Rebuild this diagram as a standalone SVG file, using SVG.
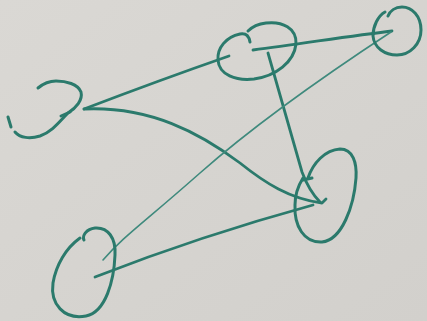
<svg xmlns="http://www.w3.org/2000/svg" width="427" height="321" viewBox="0 0 427 321">
<defs>
<linearGradient id="bg" x1="0" y1="0" x2="1" y2="1">
<stop offset="0" stop-color="#dad8d4"/>
<stop offset="1" stop-color="#d2d0cc"/>
</linearGradient>
</defs>
<style>
.n{fill:none;stroke:#2b7a6c;stroke-width:3;stroke-linecap:round;stroke-linejoin:round}
.e{fill:none;stroke:#2b7a6c;stroke-width:2.8;stroke-linecap:round;stroke-linejoin:round}
.t{fill:none;stroke:#3f8a7d;stroke-width:1.6;stroke-linecap:round}
</style>
<rect width="427" height="321" fill="url(#bg)"/>
<g id="connectors">
<path class="e" d="M 84 109 Q 160 80 229 56"/>
<path class="e" d="M 84 109 C 150 106 200 133 240 163 C 265 183 290 199 322 203 L 326 199"/>
<path class="e" d="M 253 50 C 300 44 350 36 392 31"/>
<path class="e" d="M 268 53 L 302 172 C 308 188 314 196 320 202"/>
<path class="t" d="M 391 32 C 330 72 260 120 200 173 S 125 235 103 260"/>
<path class="e" d="M 95 277 Q 200 236 313 205"/>
</g>
<g id="node-a">
<path class="n" d="M 250 42 C 249 36 246 33 240 34 C 226 37 217 48 218 60 C 219 75 236 81 254 79 C 276 76 294 62 296 44 C 297 28 282 21 266 23 C 258 24 252 27 248 31"/>
</g>
<g id="node-b">
<path class="n" d="M 385 12 C 378 16 373 26 373 36 C 374 48 385 55 397 55 C 410 55 421 44 421 30 C 421 16 412 7 402 7 C 395 7 390 11 388 16"/>
</g>
<g id="node-c">
<path class="n" d="M 38 88 C 44 83 50 81 56 81 C 66 81 78 84 81 92 C 83 100 76 108 68 113 C 60 121 52 132 40 136 C 30 139 20 138 15 132"/>
<path class="n" d="M 8 117 L 11 127"/>
<path class="n" d="M 61 116 L 70 112"/>
</g>
<g id="node-d">
<path class="n" d="M 308 178 C 313 163 325 150 340 149 C 353 149 357 163 356 178 C 354 206 342 240 322 242 C 304 243 294 226 295 205 C 295 194 298 186 303 178"/>
<path class="n" d="M 303 180 L 312 178"/>
</g>
<g id="node-e">
<path class="n" d="M 84 240 C 82 236 86 229 95 228 C 108 227 116 238 115 255 C 114 280 106 312 86 316 C 64 320 50 304 53 283 C 56 265 66 248 80 238"/>
</g>
</svg>
